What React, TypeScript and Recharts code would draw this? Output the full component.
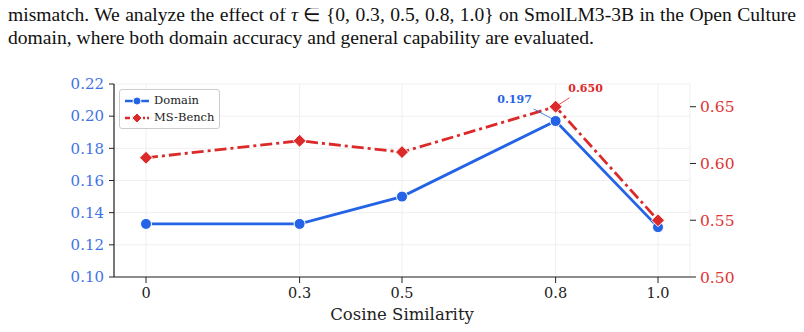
import React from 'react';
import {
  LineChart,
  Line,
  XAxis,
  YAxis,
  CartesianGrid,
} from 'recharts';

const thresholds = [0, 0.3, 0.5, 0.8, 1.0];
const domainAcc = [0.133, 0.133, 0.150, 0.197, 0.131];
const msBench = [0.605, 0.620, 0.610, 0.650, 0.550];
const leftTicks = [0.10, 0.12, 0.14, 0.16, 0.18, 0.20, 0.22];
const rightTicks = [0.50, 0.55, 0.60, 0.65];
const peakIndex = 3;

const BLUE = '#2463e6';
const RED = '#dc2a2a';
const BLUE_TEXT = '#3f74e8';
const RED_TEXT = '#de3434';
const SERIF = '"DejaVu Serif", serif';

const data = thresholds.map((t, i) => ({
  t,
  domain: domainAcc[i],
  bench: msBench[i],
}));

const CircleDot = (props: any) => {
  const { cx, cy } = props;
  if (cx == null || cy == null) return null;
  return <circle cx={cx} cy={cy} r={5.5} fill={BLUE} stroke="#fff" strokeWidth={1} />;
};

const DiamondDot = (props: any) => {
  const { cx, cy } = props;
  if (cx == null || cy == null) return null;
  const s = 6.5;
  return (
    <polygon
      points={`${cx},${cy - s} ${cx + s},${cy} ${cx},${cy + s} ${cx - s},${cy}`}
      fill={RED}
      stroke="#fff"
      strokeWidth={1}
    />
  );
};

// peak annotations with a short leader line
const DomainPeakLabel = (props: any) => {
  const { x, y, index, value } = props;
  if (index !== peakIndex) return null;
  return (
    <g>
      <line x1={x - 22} y1={y - 12} x2={x - 3} y2={y - 2} stroke={BLUE} strokeWidth={0.8} />
      <text x={x - 41} y={y - 18} textAnchor="middle" fill={BLUE} fontSize={11} fontWeight="bold" fontFamily={SERIF}>
        {Number(value).toFixed(3)}
      </text>
    </g>
  );
};

const BenchPeakLabel = (props: any) => {
  const { x, y, index, value } = props;
  if (index !== peakIndex) return null;
  return (
    <g>
      <line x1={x + 3} y1={y - 2} x2={x + 14} y2={y - 9} stroke={RED} strokeWidth={0.8} />
      <text x={x + 30} y={y - 15} textAnchor="middle" fill={RED} fontSize={11} fontWeight="bold" fontFamily={SERIF}>
        {Number(value).toFixed(3)}
      </text>
    </g>
  );
};

const LegendBox = () => (
  <div
    style={{
      position: 'absolute',
      left: 119,
      top: 89,
      padding: '2px 5px 2px 4px',
      border: '1px solid #cccccc',
      borderRadius: 3,
      background: 'rgba(255,255,255,0.85)',
      fontFamily: SERIF,
      fontSize: 11.5,
      lineHeight: '17px',
      color: '#222',
    }}
  >
    <div style={{ display: 'flex', alignItems: 'center' }}>
      <svg width={26} height={12} style={{ marginRight: 4 }}>
        <line x1={1} y1={6} x2={25} y2={6} stroke={BLUE} strokeWidth={2.5} />
        <circle cx={13} cy={6} r={4} fill={BLUE} stroke="#fff" strokeWidth={1} />
      </svg>
      Domain
    </div>
    <div style={{ display: 'flex', alignItems: 'center' }}>
      <svg width={26} height={12} style={{ marginRight: 4 }}>
        <line x1={1} y1={6} x2={25} y2={6} stroke={RED} strokeWidth={2.5} strokeDasharray="5 2 2 2" />
        <polygon points="13,1 18,6 13,11 8,6" fill={RED} stroke="#fff" strokeWidth={1} />
      </svg>
      MS-Bench
    </div>
  </div>
);

export default function App() {
  return (
    <div style={{ position: 'relative', width: 804, height: 332, background: '#fff', margin: -8 }}>
      <div
        style={{
          position: 'absolute',
          left: 8,
          top: 3,
          width: 788,
          fontFamily: '"Liberation Serif", "Times New Roman", serif',
          fontSize: 19.6,
          lineHeight: '23px',
          color: '#111',
        }}
      >
        <div style={{ textAlign: 'justify', textAlignLast: 'justify', whiteSpace: 'nowrap' }}>
          mismatch. We analyze the effect of <i>τ</i> ∈ {'{'}0, 0.3, 0.5, 0.8, 1.0{'}'} on SmolLM3-3B in the Open Culture
        </div>
        <div>domain, where both domain accuracy and general capability are evaluated.</div>
      </div>

      <div style={{ position: 'absolute', left: 0, top: 0, fontFamily: SERIF }}>
        <LineChart
          width={804}
          height={332}
          data={data}
          margin={{ top: 84, right: 54, bottom: 5, left: 54 }}
          style={{ fontFamily: SERIF }}
        >
          <CartesianGrid yAxisId="left" stroke="#efefef" strokeWidth={1} />
          <XAxis
            dataKey="t"
            type="number"
            domain={[-0.0625, 1.0625]}
            ticks={thresholds}
            allowDataOverflow
            height={50}
            tickFormatter={(v: number) => (v === 0 ? '0' : v.toFixed(1))}
            tick={{ fill: '#222', fontSize: 14.5, fontFamily: SERIF }}
            tickSize={6}
            tickMargin={5}
            axisLine={{ stroke: '#222', strokeWidth: 1.2 }}
            tickLine={{ stroke: '#222' }}
            label={{
              value: 'Cosine Similarity',
              position: 'insideBottom',
              offset: 7,
              fill: '#222',
              fontSize: 16.5,
              fontFamily: SERIF,
            }}
          />
          <YAxis
            yAxisId="left"
            domain={[0.10, 0.22]}
            ticks={leftTicks}
            width={60}
            tickFormatter={(v: number) => v.toFixed(2)}
            tick={{ fill: BLUE_TEXT, fontSize: 15, fontFamily: SERIF }}
            tickSize={5}
            tickMargin={5}
            axisLine={{ stroke: '#222', strokeWidth: 1.2 }}
            tickLine={{ stroke: '#222' }}
          />
          <YAxis
            yAxisId="right"
            orientation="right"
            domain={[0.50, 0.67]}
            ticks={rightTicks}
            width={60}
            tickFormatter={(v: number) => v.toFixed(2)}
            tick={{ fill: RED_TEXT, fontSize: 15.5, fontFamily: SERIF }}
            tickSize={6}
            tickMargin={4}
            axisLine={false}
            tickLine={{ stroke: '#222' }}
          />
          <Line
            yAxisId="left"
            dataKey="domain"
            stroke={BLUE}
            strokeWidth={2.8}
            dot={<CircleDot />}
            activeDot={false}
            label={<DomainPeakLabel />}
            isAnimationActive={false}
          />
          <Line
            yAxisId="right"
            dataKey="bench"
            stroke={RED}
            strokeWidth={2.8}
            strokeDasharray="12 4 3 4"
            dot={<DiamondDot />}
            activeDot={false}
            label={<BenchPeakLabel />}
            isAnimationActive={false}
          />
        </LineChart>
      </div>
      <LegendBox />
    </div>
  );
}
